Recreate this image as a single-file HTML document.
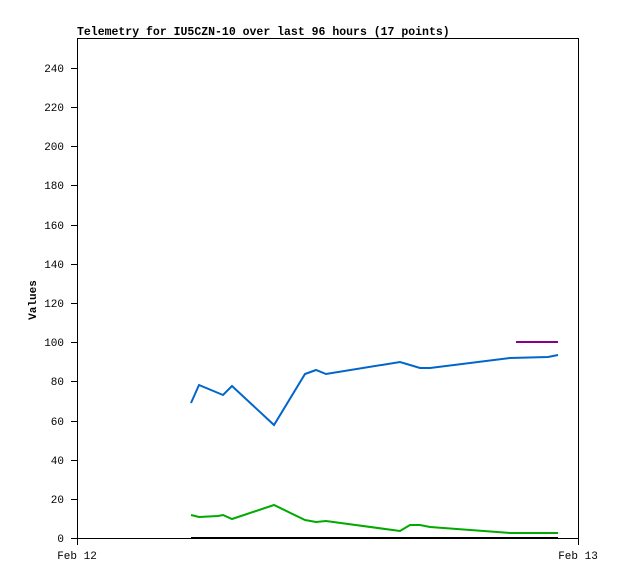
<!DOCTYPE html>
<html><head><style>body{margin:0;background:#fff}</style></head><body>
<svg width="618" height="579" xmlns="http://www.w3.org/2000/svg" font-family="Liberation Mono, monospace" font-size="11">
<rect width="618" height="579" fill="#fff"/>
<text x="77" y="35" font-weight="bold" font-size="11.5">Telemetry for IU5CZN-10 over last 96 hours (17 points)</text>
<rect x="77.5" y="38.5" width="501" height="500" fill="none" stroke="#000"/>
<g text-anchor="end">
<text x="64" y="542">0</text><text x="64" y="503">20</text><text x="64" y="464">40</text><text x="64" y="425">60</text><text x="64" y="385">80</text><text x="64" y="346">100</text><text x="64" y="307">120</text><text x="64" y="268">140</text><text x="64" y="229">160</text><text x="64" y="189">180</text><text x="64" y="150">200</text><text x="64" y="111">220</text><text x="64" y="72">240</text>
</g>
<g stroke="#000">
<path d="M71 538.5H77M71 499.5H77M71 460.5H77M71 421.5H77M71 381.5H77M71 342.5H77M71 303.5H77M71 264.5H77M71 225.5H77M71 185.5H77M71 146.5H77M71 107.5H77M71 68.5H77M77.5 538V545M578.5 538V545"/>
</g>
<text x="36" y="300" font-weight="bold" text-anchor="middle" transform="rotate(-90 36 300)">Values</text>
<text x="77" y="559" text-anchor="middle">Feb 12</text>
<text x="578" y="559" text-anchor="middle">Feb 13</text>
<polyline fill="none" stroke="#0066cc" stroke-width="2" points="191,403 199,385 223,395 232,386 274,425 305,374 316,370 326,374 400,362 410,365 420,368 430,368 510,358 548,357 558,355"/>
<polyline fill="none" stroke="#00aa00" stroke-width="2" points="191,515 199,517 218,516 223,515 232,519 274,505 305,520 316,522 326,521 400,531 410,525 420,525 430,527 510,533 558,533"/>
<line x1="191" y1="538" x2="558" y2="538" stroke="#000" stroke-width="2"/>
<line x1="516" y1="342" x2="558" y2="342" stroke="#880088" stroke-width="2"/>
</svg>
</body></html>
